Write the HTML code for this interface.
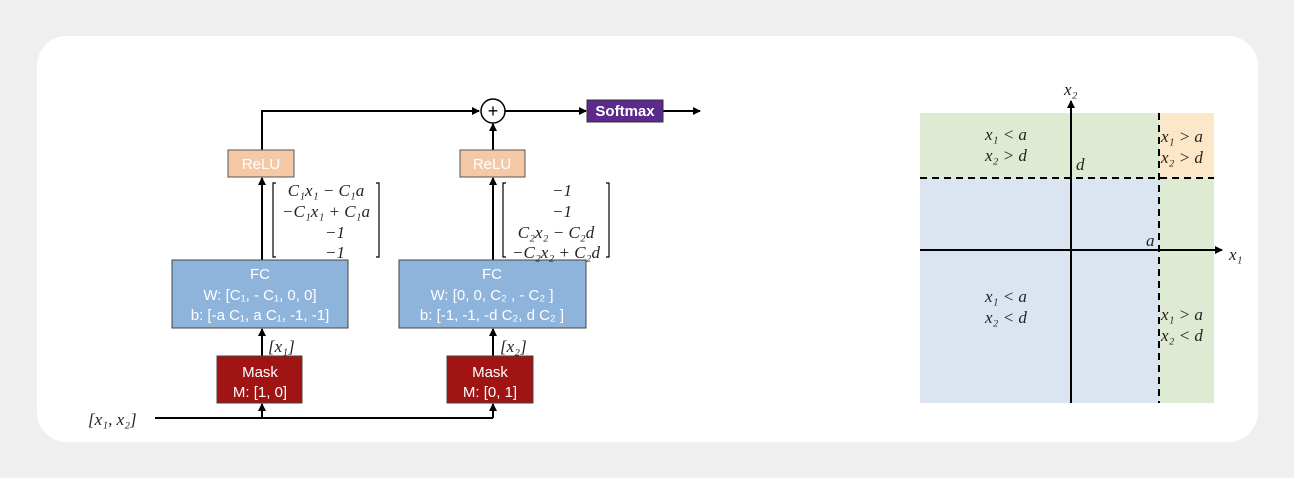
<!DOCTYPE html>
<html><head><meta charset="utf-8"><style>
html,body{margin:0;padding:0;background:#f1f1f1;}
svg{display:block}
text{font-family:"Liberation Sans",sans-serif}
text.m,.m text{font-family:"Liberation Serif",serif;font-style:italic;font-size:17px;fill:#222}
.w{fill:#fff;font-size:15px;text-anchor:middle}
</style></head><body>
<svg width="1294" height="478" viewBox="0 0 1294 478" xmlns="http://www.w3.org/2000/svg">
<defs><marker id="a" markerWidth="8" markerHeight="8" refX="7" refY="4" orient="auto" markerUnits="userSpaceOnUse"><path d="M0,0L8,4L0,8z" fill="#000"/></marker></defs>
<rect x="0" y="0" width="1294" height="478" fill="#efefef"/>
<rect x="37" y="36" width="1221" height="406" rx="30" fill="#fff"/>
<g stroke="#000" stroke-width="2" fill="none">
<path d="M262,150V111H479" marker-end="url(#a)"/>
<path d="M493,150V124" marker-end="url(#a)"/>
<path d="M505,111H586" marker-end="url(#a)"/>
<path d="M663,111H700" marker-end="url(#a)"/>
<path d="M262,260V178" marker-end="url(#a)"/>
<path d="M493,260V178" marker-end="url(#a)"/>
<path d="M262,356V329" marker-end="url(#a)"/>
<path d="M493,356V329" marker-end="url(#a)"/>
<path d="M155,418H493"/>
<path d="M262,418V404" marker-end="url(#a)"/>
<path d="M493,418V404" marker-end="url(#a)"/>
</g>
<circle cx="493" cy="111" r="12" fill="#fff" stroke="#000" stroke-width="1.5"/>
<text x="493" y="117" text-anchor="middle" font-size="18">+</text>
<rect x="587" y="100" width="76" height="22" fill="#5b2a8c" stroke="#333"/>
<text x="625" y="116" class="w" font-size="13" font-weight="bold">Softmax</text>
<rect x="228" y="150" width="66" height="27" fill="#f5c9a6" stroke="#555"/>
<text x="261" y="169" class="w" font-size="16">ReLU</text>
<rect x="460" y="150" width="65" height="27" fill="#f5c9a6" stroke="#555"/>
<text x="492" y="169" class="w" font-size="16">ReLU</text>
<rect x="172" y="260" width="176" height="68" fill="#8fb4dc" stroke="#444"/>
<text x="260" y="279" class="w">FC</text>
<text x="260" y="300" class="w">W: [C₁, - C₁, 0, 0]</text>
<text x="260" y="320" class="w">b: [-a C₁, a C₁, -1, -1]</text>
<rect x="399" y="260" width="187" height="68" fill="#8fb4dc" stroke="#444"/>
<text x="492" y="279" class="w">FC</text>
<text x="492" y="300" class="w">W: [0, 0, C₂ , - C₂ ]</text>
<text x="492" y="320" class="w">b: [-1, -1, -d C₂, d C₂ ]</text>
<rect x="217" y="356" width="85" height="47" fill="#a01414" stroke="#444"/>
<text x="260" y="377" class="w" font-size="16">Mask</text>
<text x="260" y="397" class="w" font-size="16">M: [1, 0]</text>
<rect x="447" y="356" width="86" height="47" fill="#a01414" stroke="#444"/>
<text x="490" y="377" class="w" font-size="16">Mask</text>
<text x="490" y="397" class="w" font-size="16">M: [0, 1]</text>
<text x="88" y="425" class="m">[x₁, x₂]</text>
<text x="268" y="352" class="m">[x₁]</text>
<text x="500" y="352" class="m">[x₂]</text>
<g stroke="#000" stroke-width="1.2" fill="none">
<path d="M276,183H273V257H276M376,183H379V257H376"/>
<path d="M506,183H503V257H506M606,183H609V257H606"/>
</g>
<g class="m" text-anchor="middle">
<text x="326" y="196">C₁x₁ − C₁a</text>
<text x="326" y="217">−C₁x₁ + C₁a</text>
<text x="335" y="238">−1</text>
<text x="335" y="258">−1</text>
<text x="562" y="196">−1</text>
<text x="562" y="217">−1</text>
<text x="556" y="238">C₂x₂ − C₂d</text>
<text x="556" y="258">−C₂x₂ + C₂d</text>
</g>
<rect x="920" y="113" width="294" height="290" fill="#dae5f1"/>
<rect x="920" y="113" width="239" height="65" fill="#dfead3"/>
<rect x="1159" y="178" width="55" height="225" fill="#dfead3"/>
<rect x="1159" y="113" width="55" height="65" fill="#fce8c8"/>
<g stroke="#000" stroke-width="2" fill="none">
<path d="M920,178H1214M1159,113V403" stroke-dasharray="7,5"/>
<path d="M1071,403V101" marker-end="url(#a)"/>
<path d="M920,250H1222" marker-end="url(#a)"/>
</g>
<g class="m">
<text x="1064" y="95">x₂</text>
<text x="1229" y="260">x₁</text>
<text x="1076" y="170">d</text>
<text x="1146" y="246">a</text>
<text x="985" y="140">x₁ &lt; a</text>
<text x="985" y="161">x₂ &gt; d</text>
<text x="1161" y="142">x₁ &gt; a</text>
<text x="1161" y="163">x₂ &gt; d</text>
<text x="985" y="302">x₁ &lt; a</text>
<text x="985" y="323">x₂ &lt; d</text>
<text x="1161" y="320">x₁ &gt; a</text>
<text x="1161" y="341">x₂ &lt; d</text>
</g>
</svg>
</body></html>
